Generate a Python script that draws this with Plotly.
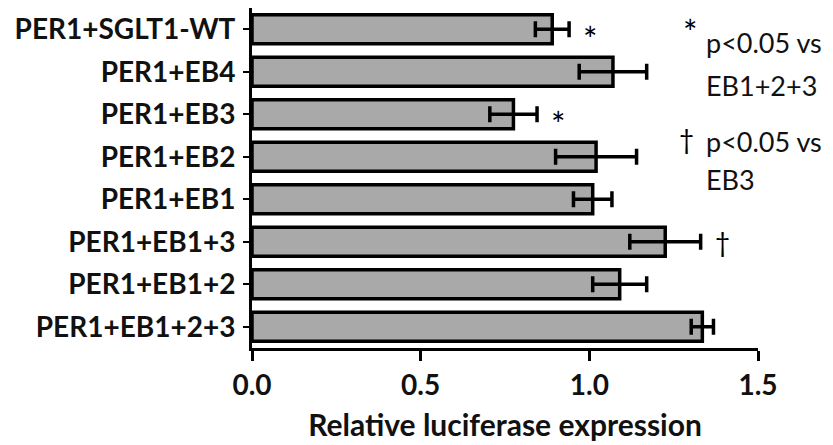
import plotly.graph_objects as go

categories = ["PER1+SGLT1-WT", "PER1+EB4", "PER1+EB3", "PER1+EB2",
              "PER1+EB1", "PER1+EB1+3", "PER1+EB1+2", "PER1+EB1+2+3"]
values = [0.89, 1.07, 0.775, 1.02, 1.01, 1.225, 1.09, 1.335]
errors = [0.05, 0.10, 0.07, 0.12, 0.057, 0.105, 0.08, 0.033]
marks = ["*", "", "*", "", "", "†", "", ""]
x_ticks = [0.0, 0.5, 1.0, 1.5]
x_tick_labels = ["0.0", "0.5", "1.0", "1.5"]

FONT = "Lato"

fig = go.Figure()
fig.add_trace(go.Bar(
    y=categories, x=values, orientation="h",
    marker=dict(color="#a9a9a9", line=dict(color="black", width=3.5)),
    width=0.68,
    error_x=dict(type="data", array=errors, color="black", thickness=3.5, width=8),
    hoverinfo="skip",
))

annotations = []
for c, v, e, m in zip(categories, values, errors, marks):
    if m:
        star = m == "*"
        annotations.append(dict(
            x=v + e, y=c, xref="x", yref="y", text=m, showarrow=False,
            xanchor="left", yanchor="middle", xshift=12,
            yshift=-9 if star else 0,
            font=dict(family=FONT, size=34 if star else 26, color="black")))

# legend-like notes, positions in pixels (x, y from top)
L, R, T, B = 252, 75, 8, 97
W, H = 833, 445
pw, ph = W - L - R, H - T - B


def paper(px, py_top):
    return (px - L) / pw, (H - py_top - B) / ph


legend_font = dict(family=FONT, size=27, color="#111111")
notes = [
    ("*", 690, 32, "center", dict(family=FONT, size=34, color="black")),
    ("p<0.05 vs", 704, 43, "left", legend_font),
    ("EB1+2+3", 704, 86, "left", legend_font),
    ("†", 686, 139, "center", dict(family=FONT, size=26, color="black")),
    ("p<0.05 vs", 704, 141, "left", legend_font),
    ("EB3", 704, 179, "left", legend_font),
]
for text, px, py, anchor, font in notes:
    xp, yp = paper(px, py)
    annotations.append(dict(x=xp, y=yp, xref="paper", yref="paper", text=text,
                            showarrow=False, xanchor=anchor, yanchor="middle",
                            font=font))

fig.update_layout(
    width=W, height=H,
    margin=dict(l=L, r=R, t=T, b=B),
    paper_bgcolor="white", plot_bgcolor="white",
    showlegend=False,
    annotations=annotations,
    xaxis=dict(
        range=[0, 1.5], tickvals=x_ticks, ticktext=x_tick_labels,
        showgrid=False, zeroline=False,
        showline=True, linecolor="black", linewidth=3,
        ticks="outside", ticklen=10, tickwidth=3, tickcolor="black",
        tickfont=dict(family=FONT, size=28, color="#111111", weight="bold"),
        title=dict(text="Relative luciferase expression",
                   font=dict(family=FONT, size=30, color="#111111", weight="bold"),
                   standoff=16),
    ),
    yaxis=dict(
        categoryorder="array", categoryarray=categories[::-1],
        showgrid=False, zeroline=False,
        showline=True, linecolor="black", linewidth=3,
        ticks="outside", ticklen=6, tickwidth=2, tickcolor="black",
        ticklabelstandoff=2,
        tickfont=dict(family=FONT, size=28, color="#111111", weight="bold"),
    ),
)

fig.write_html("out.html")
